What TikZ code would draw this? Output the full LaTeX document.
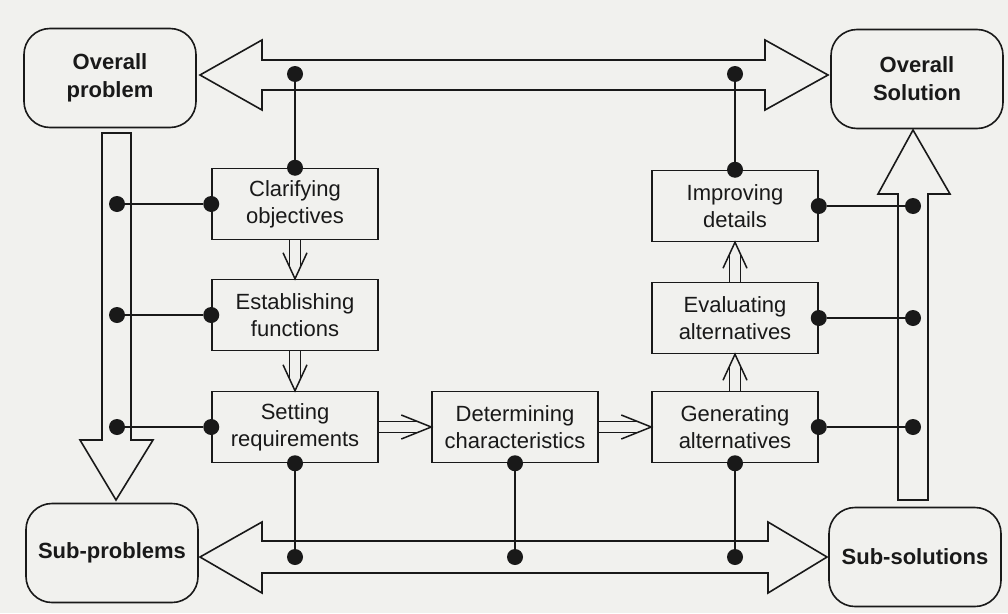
\documentclass[tikz,border=0pt]{standalone}
\usepackage{fontspec}
\setmainfont{Liberation Sans}
\usetikzlibrary{calc}
\definecolor{paper}{RGB}{241,241,238}
\definecolor{ink}{RGB}{25,25,25}

% open double-shafted flow arrows between step boxes
\newcommand\flowdown[2]{%
  \draw[flowline] ($(#1.south)+(-5.5,0)$) -- ($(#2.north)+(-5.5,-12)$);
  \draw[flowline] ($(#1.south)+(5.5,0)$) -- ($(#2.north)+(5.5,-12)$);
  \draw[flowline] ($(#2.north)+(-12,-26)$) -- (#2.north) -- ($(#2.north)+(12,-26)$);}
\newcommand\flowup[2]{%
  \draw[flowline] ($(#1.north)+(-5.5,0)$) -- ($(#2.south)+(-5.5,12)$);
  \draw[flowline] ($(#1.north)+(5.5,0)$) -- ($(#2.south)+(5.5,12)$);
  \draw[flowline] ($(#2.south)+(-12,26)$) -- (#2.south) -- ($(#2.south)+(12,26)$);}
\newcommand\flowright[2]{%
  \draw[flowline] ($(#1.east)+(0,-5.5)$) -- ($(#2.west)+(-14,-5.5)$);
  \draw[flowline] ($(#1.east)+(0,5.5)$) -- ($(#2.west)+(-14,5.5)$);
  \draw[flowline] ($(#2.west)+(-30,-12)$) -- (#2.west) -- ($(#2.west)+(-30,12)$);}

\begin{document}
\begin{tikzpicture}[x=1pt,y=-1pt, draw=ink, text=ink,
  proc/.style={draw, line width=1.5pt, minimum width=166pt, minimum height=71pt,
    inner sep=0pt, align=center, font=\fontsize{22}{27}\selectfont},
  term/.style={draw, line width=1.6pt, rounded corners=26pt, minimum width=172pt,
    minimum height=99pt, inner sep=0pt, align=center,
    font=\fontsize{22}{28}\selectfont\bfseries},
  dot/.style={circle, fill=ink, minimum size=16pt, inner sep=0pt},
  fat/.style={draw, line width=1.6pt, line join=miter},
  link/.style={line width=1.6pt},
  flowline/.style={line width=1.5pt, line join=miter},
]
\fill[paper] (0,0) rectangle (1008,613);
\useasboundingbox (0,0) rectangle (1008,613);

% terminal boxes
\node[term] (op) at (110,78)  {Overall\\problem};
\node[term] (os) at (917,79)  {Overall\\Solution};
\node[term] (sp) at (112,553) {Sub-problems};
\node[term] (ss) at (915,557) {Sub-solutions};

% process steps
\node[proc] (clar) at (295,204) {Clarifying\\objectives};
\node[proc] (est)  at (295,315) {Establishing\\functions};
\node[proc] (set)  at (295,427) {Setting\\requirements};
\node[proc] (det)  at (515,427) {Determining\\characteristics};
\node[proc] (gen)  at (735,427) {Generating\\alternatives};
\node[proc] (eva)  at (735,318) {Evaluating\\alternatives};
\node[proc] (imp)  at (735,206) {Improving\\details};

% broad hollow arrows
\draw[fat] (200,75) -- (262,40) -- (262,60) -- (765,60) -- (765,40) -- (828,75)
  -- (765,110) -- (765,90) -- (262,90) -- (262,110) -- cycle;
\draw[fat] (200,557) -- (262,522) -- (262,541) -- (768,541) -- (768,522) -- (827,557)
  -- (768,593) -- (768,573) -- (262,573) -- (262,593) -- cycle;
\draw[fat] (102,133) -- (131,133) -- (131,440) -- (153,440) -- (116,500)
  -- (80,440) -- (102,440) -- cycle;
\draw[fat] (898,500) -- (898,194) -- (878,194) -- (913,130) -- (950,194)
  -- (928,194) -- (928,500) -- cycle;

% flow between steps
\flowdown{clar}{est}
\flowdown{est}{set}
\flowright{set}{det}
\flowright{det}{gen}
\flowup{gen}{eva}
\flowup{eva}{imp}

% reference lines for the junction dots
\coordinate (topline) at (0,74);
\coordinate (botline) at (0,557);
\coordinate (lshaft) at (117,0);
\coordinate (rshaft) at (913,0);

% top links
\node[dot] (t1) at (clar.north |- topline) {};
\node[dot] (t2) at (imp.north |- topline) {};
\node[dot] (cn) at (clar.north) {};
\node[dot] (in) at (imp.north) {};
\draw[link] (t1) -- (cn);
\draw[link] (t2) -- (in);

% bottom links
\node[dot] (b1) at (set.south |- botline) {};
\node[dot] (b2) at (det.south |- botline) {};
\node[dot] (b3) at (gen.south |- botline) {};
\node[dot] (ssd) at (set.south) {};
\node[dot] (dsd) at (det.south) {};
\node[dot] (gsd) at (gen.south) {};
\draw[link] (ssd) -- (b1);
\draw[link] (dsd) -- (b2);
\draw[link] (gsd) -- (b3);

% left links
\node[dot] (l1) at (lshaft |- clar.west) {};
\node[dot] (l2) at (lshaft |- est.west) {};
\node[dot] (l3) at (lshaft |- set.west) {};
\node[dot] (cw) at (clar.west) {};
\node[dot] (ew) at (est.west) {};
\node[dot] (sw) at (set.west) {};
\draw[link] (l1) -- (cw);
\draw[link] (l2) -- (ew);
\draw[link] (l3) -- (sw);

% right links
\node[dot] (r1) at (rshaft |- imp.east) {};
\node[dot] (r2) at (rshaft |- eva.east) {};
\node[dot] (r3) at (rshaft |- gen.east) {};
\node[dot] (ie) at (imp.east) {};
\node[dot] (ee) at (eva.east) {};
\node[dot] (ge) at (gen.east) {};
\draw[link] (ie) -- (r1);
\draw[link] (ee) -- (r2);
\draw[link] (ge) -- (r3);
\end{tikzpicture}
\end{document}
